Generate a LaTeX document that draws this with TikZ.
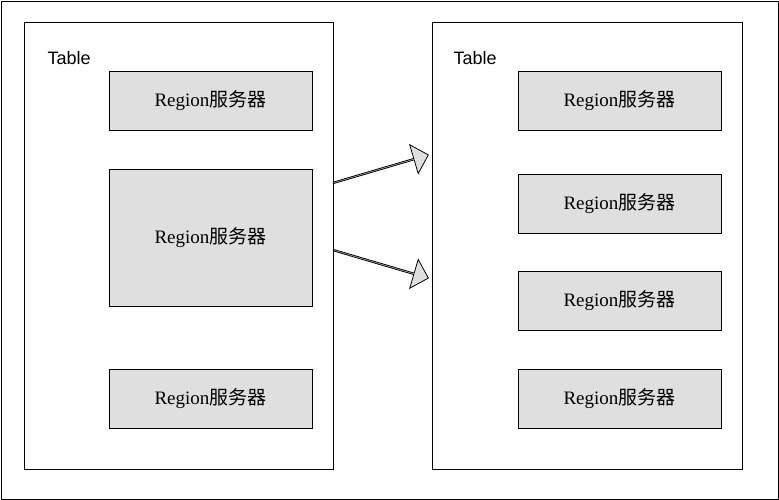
\documentclass[tikz,border=0pt]{standalone}
\usepackage{fontspec}
\setmainfont{Liberation Serif}
\newfontfamily\tablefont{Liberation Sans}
\newfontfamily\cjk{Noto Sans CJK SC}
\usetikzlibrary{shapes.arrows}
\newcommand{\region}{Region{\cjk 服务器}}

\begin{document}
\begin{tikzpicture}[x=1pt,y=-1pt,
    table/.style={draw=black,thick,inner sep=0pt,anchor=north west},
    region/.style={draw=black,thick,fill=gray!25,minimum width=203pt,inner sep=0pt,font=\fontsize{19}{22}\selectfont},
    flow/.style={single arrow,draw=black,thick,fill=gray!25,minimum height=99pt,minimum width=30pt,
      single arrow head extend=7.5pt,single arrow head indent=0pt,inner sep=0pt}]
    \draw[thick] (1,1) rectangle (778,499);
    \useasboundingbox (0,0) rectangle (779,500);

    \node[table,minimum width=309pt,minimum height=447pt] (L) at (24,22) {};
    \node[table,minimum width=310pt,minimum height=447pt] (R) at (432,22) {};
    \node[anchor=west,font=\tablefont\fontsize{18}{20}\selectfont] (Lt) at (44,58) {Table};
    \node[anchor=west,font=\tablefont\fontsize{18}{20}\selectfont] (Rt) at (450,58) {Table};

    % left table
    \node[region,minimum height=59pt] (L1) at (210.5,100.5) {\region};
    \node[region,minimum height=137pt] (L2) at (210.5,237.5) {\region};
    \node[region,minimum height=59pt] (L3) at (210.5,398.5) {\region};

    % right table
    \foreach \y [count=\i] in {100.5,203.5,300.5,398.5}
      \node[region,minimum height=59pt] (R\i) at (619.5,\y) {\region};

    % arrows
    \node[flow,rotate=16.4] (A1) at (380.5,169) {};
    \node[flow,rotate=-16.4] (A2) at (380.5,264) {};
\end{tikzpicture}
\end{document}
